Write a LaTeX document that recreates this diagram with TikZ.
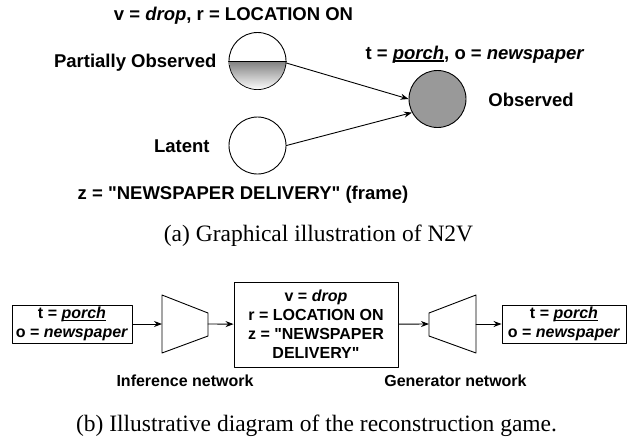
\documentclass[tikz,border=0pt]{standalone}
\usepackage{fontspec}
\setmainfont{Liberation Sans}
\newfontfamily\capfont{Liberation Serif}
\usetikzlibrary{arrows.meta}
\definecolor{shade}{RGB}{153,153,153}
\newsavebox\ulbox
\newcommand\ulword[1]{\sbox\ulbox{#1}\rlap{#1}\rule[-2.2pt]{\wd\ulbox}{1.1pt}}
\tikzset{
  var/.style={circle, draw, minimum size=57pt, inner sep=0pt},
  lbl/.style={inner sep=0pt, font=\fontsize{18.5}{22}\selectfont\bfseries},
  small/.style={inner sep=0pt, font=\fontsize{16}{19}\selectfont\bfseries},
  wordbox/.style={draw, inner sep=0pt, align=center, font=\fontsize{16}{19}\selectfont\bfseries},
  captext/.style={inner sep=0pt, font=\fontsize{23.5}{28}\selectfont\capfont}
}
\begin{document}
\begin{tikzpicture}[x=1pt, y=-1pt, line width=0.9pt, line join=round, line cap=round, >={Stealth[length=8pt,width=6pt]}]
	\useasboundingbox (0,0) rectangle (627,437);
	% (a) graphical model
	\node[var] (pobs) at (257.5,61) {};
	\begin{scope}
		\clip (pobs.center) circle[radius=28.05pt];
		\fill[shade] (pobs.west) rectangle (pobs.east |- pobs.south);
	\end{scope}
	\draw (pobs.west) -- (pobs.east);
	\node[var] (latent) at (257.5,145.5) {};
	\node[var, fill=shade] (obs) at (437.5,99) {};
	\node[lbl, anchor=base] (vr) at (233.5,20.7) {v = \textit{drop}, r = LOCATION ON};
	\node[lbl, anchor=base east] (pobslbl) at (217,67.7) {Partially Observed};
	\node[lbl, anchor=base east] (latentlbl) at (210,152.3) {Latent};
	\node[lbl, anchor=base] (zlbl) at (243,199.5) {z = \textquotedbl NEWSPAPER DELIVERY\textquotedbl\ (frame)};
	\node[lbl, anchor=base] (tolbl) at (475,59.3) {t = \ulword{\textit{porch}}, o = \textit{newspaper}};
	\node[lbl, anchor=base west] (obslbl) at (488,106) {Observed};
	\draw[->] (pobs.-4) -- (obs.180);
	\draw[->] (latent.east) -- (obs.208);
	\node[captext, anchor=base] (capa) at (318.5,241) {(a) Graphical illustration of N2V};
	% (b) reconstruction game
	\node[wordbox, minimum width=120pt, minimum height=38pt] (inbox) at (72,324) {t = \ulword{\textit{porch}}\\ o = \textit{newspaper}};
	\node[wordbox, minimum width=164pt, minimum height=85pt] (code) at (316,324.5) {v = \textit{drop}\\ r = LOCATION ON\\ z = \textquotedbl NEWSPAPER\\ DELIVERY\textquotedbl};
	\node[wordbox, minimum width=124pt, minimum height=38pt] (outbox) at (564,324) {t = \ulword{\textit{porch}}\\ o = \textit{newspaper}};
	\draw (162,295) -- (208,313) -- (208,336) -- (162,353) -- cycle;
	\draw (429,313) -- (476,295) -- (476,353) -- (429,336) -- cycle;
	\coordinate (encin) at (162,324);
	\coordinate (encout) at (208,324);
	\coordinate (decin) at (429,324);
	\coordinate (decout) at (476,324);
	\draw[->] (inbox) -- (encin);
	\draw[->] (encout) -- (code);
	\draw[->] (code) -- (decin);
	\draw[->] (decout) -- (outbox);
	\node[small, anchor=base] (enclbl) at (185,386.7) {Inference network};
	\node[small, anchor=base] (declbl) at (455.5,386.7) {Generator network};
	\node[captext, anchor=base] (capb) at (316.5,431) {(b) Illustrative diagram of the reconstruction game.};
\end{tikzpicture}
\end{document}
